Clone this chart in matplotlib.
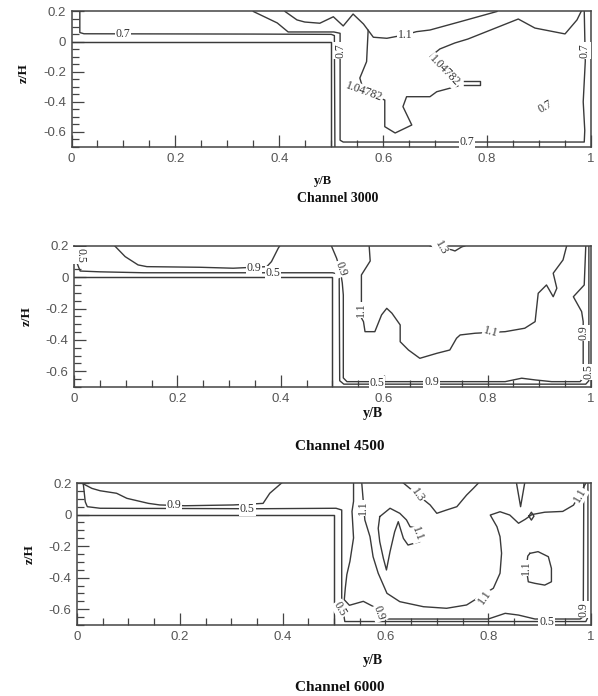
import matplotlib
matplotlib.use("Agg")
import matplotlib.pyplot as plt
from matplotlib.ticker import MultipleLocator, FuncFormatter

plt.rcParams['axes.unicode_minus'] = False

# floodplain block (no flow below z=0 for y<0.5)
WALL_Y = [0.0, 0.5, 0.5]
WALL_Z = [0.0, 0.0, -0.7]

# ---------------- Channel 3000 : isolines (y/B, z/H) ----------------
c3000_a_y = [0.016, 0.016, 0.024, 0.35, 0.5, 0.506, 0.507]
c3000_a_z = [0.2, 0.06, 0.052, 0.05, 0.048, 0.04, -0.7]
c3000_b_y = [0.35, 0.396, 0.417, 0.505, 0.517, 0.517, 0.523, 0.987, 0.988, 0.985, 0.989, 0.987]
c3000_b_z = [0.2, 0.124, 0.064, 0.064, 0.055, -0.655, -0.667, -0.667, -0.59, -0.4, -0.13, 0.2]
c3000_11_y = [0.411, 0.434, 0.449, 0.478, 0.504, 0.523, 0.542, 0.562, 0.581, 0.607, 0.642,
              0.664, 0.690, 0.748, 0.819]
c3000_11_z = [0.2, 0.144, 0.13, 0.122, 0.165, 0.104, 0.183, 0.117, 0.029, 0.022, 0.045,
              0.066, 0.077, 0.132, 0.2]
c3000_105_y = [0.571, 0.568, 0.555, 0.563, 0.603, 0.603, 0.623, 0.655, 0.638, 0.645, 0.690,
               0.703, 0.744, 0.717, 0.690, 0.709, 0.738, 0.763, 0.860, 0.892, 0.950, 0.973, 0.981]
c3000_105_z = [0.075, -0.133, -0.242, -0.335, -0.388, -0.565, -0.607, -0.554, -0.432, -0.366,
               -0.366, -0.333, -0.295, -0.195, -0.102, -0.049, -0.009, 0.017, 0.150, 0.090,
               0.051, 0.144, 0.2]
c3000_box_y = [0.755, 0.787, 0.787, 0.755]
c3000_box_z = [-0.26, -0.26, -0.29, -0.29]
c3000_lab = [(0.099, 0.05, '0.7', 0), (0.517, -0.06, '0.7', 90), (0.761, -0.667, '0.7', 0),
             (0.987, -0.06, '0.7', 90), (0.913, -0.43, '0.7', 30), (0.642, 0.045, '1.1', 0),
             (0.563, -0.335, '1.04782', -20), (0.717, -0.195, '1.04782', -46)]

# ---------------- Channel 4500 ----------------
c4500_05_y = [0.004, 0.006, 0.012, 0.05, 0.135, 0.5, 0.513, 0.514, 0.522, 0.99, 0.996, 0.996]
c4500_05_z = [0.2, 0.09, 0.04, 0.035, 0.029, 0.029, 0.02, -0.66, -0.682, -0.682, -0.66, 0.2]
c4500_09a_y = [0.079, 0.099, 0.124, 0.141, 0.244, 0.308, 0.373, 0.382, 0.395, 0.398]
c4500_09a_z = [0.2, 0.132, 0.079, 0.068, 0.064, 0.058, 0.068, 0.1, 0.185, 0.2]
c4500_09b_y = [0.498, 0.508, 0.515, 0.519, 0.521, 0.521, 0.528, 0.834, 0.866, 0.892, 0.924,
               0.979, 0.985, 0.985, 0.985, 0.982, 0.966, 0.987, 0.99]
c4500_09b_z = [0.2, 0.122, 0.047, -0.036, -0.113, -0.642, -0.666, -0.666, -0.644, -0.655,
               -0.666, -0.666, -0.642, -0.453, -0.283, -0.219, -0.124, -0.049, 0.2]
c4500_11_y = [0.571, 0.573, 0.556, 0.556, 0.556, 0.560, 0.563, 0.582, 0.595, 0.605, 0.615,
              0.631, 0.631, 0.647, 0.669, 0.702, 0.727, 0.740, 0.747, 0.776, 0.834, 0.872,
              0.892, 0.898, 0.914, 0.927, 0.934, 0.927, 0.946, 0.953]
c4500_11_z = [0.2, 0.104, 0.015, -0.155, -0.259, -0.283, -0.347, -0.347, -0.240, -0.198,
              -0.229, -0.304, -0.411, -0.464, -0.517, -0.485, -0.464, -0.389, -0.368, -0.357,
              -0.347, -0.325, -0.283, -0.102, -0.049, -0.124, -0.070, 0.026, 0.111, 0.2]
c4500_13_y = [0.689, 0.71, 0.731, 0.737, 0.75, 0.756]
c4500_13_z = [0.2, 0.187, 0.175, 0.168, 0.194, 0.2]
c4500_lab = [(0.012, 0.14, '0.5', -90), (0.348, 0.06, '0.9', 0), (0.385, 0.029, '0.5', 0),
             (0.516, 0.055, '0.9', -70), (0.586, -0.676, '0.5', 0), (0.692, -0.670, '0.9', 0),
             (0.985, -0.355, '0.9', 90), (0.995, -0.604, '0.5', 90), (0.556, -0.208, '1.1', 90),
             (0.806, -0.352, '1.1', -15), (0.71, 0.185, '1.3', -60)]

# ---------------- Channel 6000 ----------------
c6000_09a_y = [0.009, 0.029, 0.045, 0.077, 0.097, 0.139, 0.161, 0.21, 0.304, 0.362, 0.375, 0.398]
c6000_09a_z = [0.2, 0.166, 0.151, 0.135, 0.103, 0.071, 0.061, 0.056, 0.061, 0.071, 0.135, 0.2]
c6000_05_y = [0.012, 0.016, 0.02, 0.045, 0.35, 0.504, 0.515, 0.515, 0.521, 0.99, 0.994, 0.994]
c6000_05_z = [0.2, 0.081, 0.05, 0.04, 0.037, 0.04, 0.029, -0.55, -0.678, -0.678, -0.65, 0.2]
c6000_09b_y = [0.538, 0.538, 0.535, 0.538, 0.531, 0.525, 0.522, 0.52, 0.53, 0.557, 0.576,
               0.605, 0.8, 0.833, 0.859, 0.891, 0.979, 0.985, 0.985, 0.986]
c6000_09b_z = [0.2, 0.084, 0.02, -0.148, -0.296, -0.38, -0.465, -0.54, -0.575, -0.55, -0.582,
               -0.662, -0.662, -0.626, -0.637, -0.662, -0.662, -0.647, -0.6, 0.2]
c6000_11_y = [0.554, 0.557, 0.560, 0.570, 0.576, 0.586, 0.603, 0.628, 0.674, 0.719, 0.758,
              0.81, 0.823, 0.826, 0.823, 0.817, 0.804, 0.823, 0.842, 0.859, 0.872, 0.885,
              0.91, 0.945, 0.966, 0.985, 0.99]
c6000_11_z = [0.2, 0.082, -0.034, -0.14, -0.267, -0.372, -0.499, -0.552, -0.584, -0.594,
              -0.573, -0.467, -0.372, -0.245, -0.14, -0.077, -0.003, 0.018, -0.003, -0.055,
              -0.03, 0.0, 0.015, 0.02, 0.06, 0.17, 0.2]
c6000_hook_y = [0.589, 0.609, 0.628, 0.641, 0.648, 0.664, 0.667, 0.644, 0.635, 0.625, 0.618,
                0.609, 0.602, 0.596, 0.589, 0.586, 0.589]
c6000_hook_z = [-0.013, 0.04, 0.008, -0.034, -0.077, -0.087, -0.172, -0.193, -0.151, -0.045,
                -0.109, -0.235, -0.351, -0.277, -0.172, -0.087, -0.013]
c6000_loop_y = [0.881, 0.897, 0.917, 0.923, 0.923, 0.91, 0.891, 0.878, 0.874, 0.877, 0.881]
c6000_loop_z = [-0.246, -0.235, -0.267, -0.341, -0.426, -0.447, -0.436, -0.426, -0.34, -0.263,
                -0.246]
c6000_13_y = [0.635, 0.662, 0.687, 0.7, 0.719, 0.739, 0.758, 0.771, 0.781]
c6000_13_z = [0.2, 0.127, 0.061, 0.008, 0.029, 0.05, 0.124, 0.166, 0.2]
c6000_spike_y = [0.855, 0.863, 0.871]
c6000_spike_z = [0.2, 0.05, 0.2]
c6000_dia_y = [0.879, 0.884, 0.889, 0.884, 0.879]
c6000_dia_z = [-0.01, 0.015, -0.01, -0.035, -0.01]
c6000_lab = [(0.189, 0.062, '0.9', 0), (0.331, 0.037, '0.5', 0), (0.512, -0.6, '0.5', -60),
             (0.588, -0.625, '0.9', -70), (0.914, -0.678, '0.5', 0), (0.985, -0.6, '0.9', 90),
             (0.556, 0.042, '1.1', 90), (0.794, -0.522, '1.1', 55), (0.978, 0.12, '1.1', 60),
             (0.874, -0.339, '1.1', 90), (0.662, -0.125, '1.1', -70), (0.662, 0.125, '1.3', -55)]

LINE = '#3a3a3a'


def fmt(v, pos):
    if abs(v) < 1e-9:
        return '0'
    return '%g' % round(v, 2)


def setup(ax):
    ax.set_xlim(0, 1)
    ax.set_ylim(-0.7, 0.2)
    ax.xaxis.set_major_locator(MultipleLocator(0.2))
    ax.xaxis.set_minor_locator(MultipleLocator(0.05))
    ax.yaxis.set_major_locator(MultipleLocator(0.2))
    ax.yaxis.set_minor_locator(MultipleLocator(0.05))
    ax.xaxis.set_major_formatter(FuncFormatter(fmt))
    ax.yaxis.set_major_formatter(FuncFormatter(fmt))
    ax.tick_params(which='major', direction='in', length=8.5, width=0.9, color='#444',
                   labelsize=9.5, labelcolor='#555', pad=4, top=False, right=False)
    ax.tick_params(which='minor', direction='in', length=5, width=0.9, color='#444',
                   top=False, right=False)
    for lab in ax.get_xticklabels() + ax.get_yticklabels():
        lab.set_family('Liberation Sans')
    for s in ax.spines.values():
        s.set_color('#444')
        s.set_linewidth(1.1)
    ax.plot(WALL_Y, WALL_Z, color=LINE, lw=1.05)


def lines(ax, pairs):
    for ys, zs in pairs:
        ax.plot(ys, zs, color=LINE, lw=1.0, clip_on=True)


def labels(ax, labs):
    for y, z, s, r in labs:
        ax.text(y, z, s, rotation=r, ha='center', va='center', fontsize=8.5,
                family='Liberation Serif', color='#333', zorder=5,
                bbox=dict(boxstyle='square,pad=0.08', fc='white', ec='none'))


fig = plt.figure(figsize=(5.98, 6.96), dpi=100)

ax1 = fig.add_axes([0.1196, 0.7888, 0.8687, 0.1947])
ax2 = fig.add_axes([0.1237, 0.4440, 0.8645, 0.2026])
ax3 = fig.add_axes([0.1288, 0.1020, 0.8595, 0.2040])

for ax in (ax1, ax2, ax3):
    setup(ax)

lines(ax1, [(c3000_a_y, c3000_a_z), (c3000_b_y, c3000_b_z), (c3000_11_y, c3000_11_z),
            (c3000_105_y, c3000_105_z), (c3000_box_y, c3000_box_z)])
labels(ax1, c3000_lab)

lines(ax2, [(c4500_05_y, c4500_05_z), (c4500_09a_y, c4500_09a_z), (c4500_09b_y, c4500_09b_z),
            (c4500_11_y, c4500_11_z), (c4500_13_y, c4500_13_z)])
labels(ax2, c4500_lab)

lines(ax3, [(c6000_09a_y, c6000_09a_z), (c6000_05_y, c6000_05_z), (c6000_09b_y, c6000_09b_z),
            (c6000_11_y, c6000_11_z), (c6000_hook_y, c6000_hook_z),
            (c6000_loop_y, c6000_loop_z), (c6000_13_y, c6000_13_z),
            (c6000_spike_y, c6000_spike_z), (c6000_dia_y, c6000_dia_z)])
labels(ax3, c6000_lab)

# axis titles and captions
serif = dict(family='Liberation Serif', fontweight='bold', color='#111')
for x, y in [(0.040, 0.895), (0.045, 0.546), (0.050, 0.204)]:
    fig.text(x, y, 'z/H', rotation=90, ha='center', va='center', fontsize=9.5, **serif)
fig.text(0.540, 0.740, 'y/B', ha='center', va='center', fontsize=9, **serif)
fig.text(0.624, 0.4066, 'y/B', ha='center', va='center', fontsize=10, **serif)
fig.text(0.624, 0.0517, 'y/B', ha='center', va='center', fontsize=10, **serif)
fig.text(0.565, 0.7155, 'Channel 3000', ha='center', va='center', fontsize=10, **serif)
fig.text(0.5686, 0.3578, 'Channel 4500', ha='center', va='center', fontsize=11, **serif)
fig.text(0.5686, 0.0115, 'Channel 6000', ha='center', va='center', fontsize=11, **serif)

fig.savefig('out.png', dpi=100, facecolor='white')
